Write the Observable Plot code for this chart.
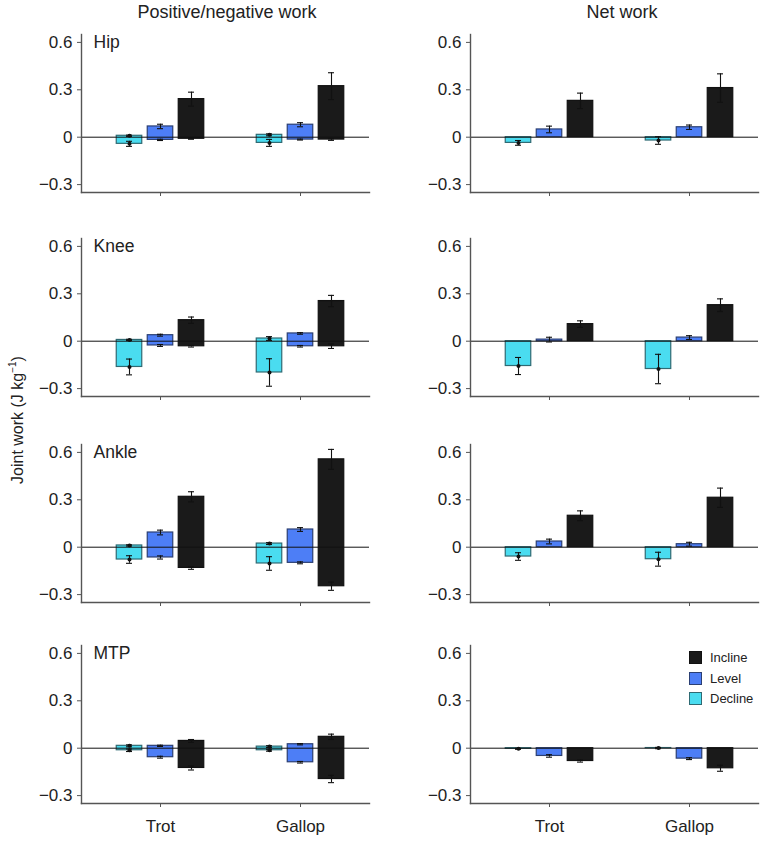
<!DOCTYPE html>
<html>
<head>
<meta charset="utf-8">
<script src="https://cdn.jsdelivr.net/npm/d3@7"></script>
<script src="https://cdn.jsdelivr.net/npm/@observablehq/plot@0.6"></script>
<style>
  body { margin: 0; background: #fff; font-family: "Liberation Sans", Arial, sans-serif; }
  #wrap { position: relative; width: 762px; height: 859px; overflow: hidden; }
  .abs { position: absolute; }
  .coltitle { font-size: 18px; color: #222; transform: translateX(-50%); white-space: nowrap; }
  .ylab { font-size: 16px; color: #222; white-space: nowrap; transform: translate(-50%, -50%) rotate(-90deg); }
  .leg { font-size: 13px; color: #222; display: flex; align-items: center; white-space: nowrap; }
  .leg span.sw { display: inline-block; width: 11px; height: 11px; border: 1px solid #333; margin-right: 8px; }
</style>
</head>
<body>
<div id="wrap"></div>
<script>
// ---------- data ----------
const gaits = ["Trot", "Gallop"];
const slopes = ["Decline", "Level", "Incline"];
const joints = ["Hip", "Knee", "Ankle", "MTP"];
const columnTitles = ["Positive/negative work", "Net work"];
const yTicks = [-0.3, 0, 0.3, 0.6];
const yTickLabels = ["\u22120.3", "0", "0.3", "0.6"];
const slopeFills = ["#4adcf0", "#4d7ef6", "#1a1a1a"];
const slopeStrokes = ["#2f6a73", "#2b3f73", "#111111"];

// order in each row: Trot Decline, Trot Level, Trot Incline, Gallop Decline, Gallop Level, Gallop Incline
const posWork = [
  [0.009, 0.068, 0.241, 0.015, 0.079, 0.323],
  [0.008, 0.038, 0.133, 0.017, 0.049, 0.254],
  [0.011, 0.093, 0.319, 0.023, 0.112, 0.556],
  [0.015, 0.015, 0.046, 0.010, 0.025, 0.072]
];
const posErr = [
  [0.004, 0.014, 0.044, 0.006, 0.013, 0.085],
  [0.004, 0.006, 0.020, 0.012, 0.005, 0.036],
  [0.004, 0.015, 0.032, 0.006, 0.012, 0.063],
  [0.006, 0.004, 0.009, 0.006, 0.004, 0.017]
];
const negWork = [
  [-0.042, -0.017, -0.010, -0.036, -0.015, -0.015],
  [-0.163, -0.027, -0.032, -0.198, -0.032, -0.032],
  [-0.078, -0.065, -0.131, -0.103, -0.099, -0.247],
  [-0.013, -0.057, -0.125, -0.013, -0.089, -0.195]
];
const negErr = [
  [0.016, 0.004, 0.003, 0.022, 0.003, 0.005],
  [0.050, 0.006, 0.005, 0.087, 0.005, 0.014],
  [0.024, 0.010, 0.009, 0.043, 0.006, 0.026],
  [0.008, 0.006, 0.013, 0.006, 0.005, 0.023]
];
const netWork = [
  [-0.036, 0.049, 0.230, -0.021, 0.063, 0.311],
  [-0.157, 0.010, 0.108, -0.176, 0.023, 0.228],
  [-0.059, 0.036, 0.199, -0.076, 0.019, 0.313],
  [-0.004, -0.049, -0.081, 0.001, -0.066, -0.127]
];
const netErr = [
  [0.015, 0.021, 0.049, 0.024, 0.014, 0.090],
  [0.054, 0.015, 0.021, 0.093, 0.012, 0.040],
  [0.024, 0.015, 0.031, 0.044, 0.012, 0.061],
  [0.003, 0.008, 0.007, 0.004, 0.006, 0.019]
];

// ---------- layout ----------
const wrap = document.getElementById("wrap");
const zeroY = [137, 340.3, 546.7, 747.3];
const yDomain = [-0.35, 0.65];
const frameH = 158;
const slopeDx = [-31, 0, 31];
const barInset = 57.25;
const capInset = 67;
const font = "'Liberation Sans', Arial, sans-serif";

function rowsFor(j) {
  const rows = [];
  gaits.forEach((g, gi) => slopes.forEach((s, si) => {
    const i = gi * 3 + si;
    rows.push({joint: joints[j], gait: g, slope: s, si,
      pos: posWork[j][i], posErr: posErr[j][i],
      neg: negWork[j][i], negErr: negErr[j][i],
      net: netWork[j][i], netErr: netErr[j][i]});
  }));
  return rows;
}

function errMarks(data, si, key, errKey) {
  const opts = {x: "gait", dx: slopeDx[si], stroke: "#111", strokeWidth: 1.1};
  return [
    Plot.ruleX(data, {...opts, y1: d => d[key] - d[errKey], y2: d => d[key] + d[errKey]}),
    Plot.tickY(data, {...opts, y: d => d[key] + d[errKey], insetLeft: capInset, insetRight: capInset}),
    Plot.tickY(data, {...opts, y: d => d[key] - d[errKey], insetLeft: capInset, insetRight: capInset})
  ];
}

for (let r = 0; r < 4; r++) {
  for (let c = 0; c < 2; c++) {
    const rows = rowsFor(r);
    const bottom = r === 3;
    const mt = 8, mb = bottom ? 44 : 8;
    const ml = c === 0 ? 81 : 89;
    const mr = c === 0 ? 12 : 4;
    const width = 381;
    const frameTop = zeroY[r] - (yDomain[1] / (yDomain[1] - yDomain[0])) * frameH;
    const marks = [];
    slopes.forEach((s, si) => {
      const d = rows.filter(v => v.si === si);
      if (c === 0) {
        marks.push(Plot.barY(d, {x: "gait", y1: "neg", y2: "pos", dx: slopeDx[si],
          insetLeft: barInset, insetRight: barInset,
          fill: slopeFills[si], stroke: slopeStrokes[si], strokeWidth: 1.2}));
      } else {
        marks.push(Plot.barY(d, {x: "gait", y1: 0, y2: "net", dx: slopeDx[si],
          insetLeft: barInset, insetRight: barInset,
          fill: slopeFills[si], stroke: slopeStrokes[si], strokeWidth: 1.2}));
      }
    });
    marks.push(Plot.ruleY([0], {stroke: "#111", strokeWidth: 1}));
    slopes.forEach((s, si) => {
      const d = rows.filter(v => v.si === si);
      if (c === 0) {
        marks.push(...errMarks(d, si, "pos", "posErr"));
        marks.push(...errMarks(d, si, "neg", "negErr"));
        if (si === 0) {
          marks.push(Plot.dot(d, {x: "gait", y: "neg", dx: slopeDx[si], r: 2, fill: "#111"}));
          marks.push(Plot.dot(d, {x: "gait", y: "pos", dx: slopeDx[si], r: 2, fill: "#111"}));
        }
      } else {
        marks.push(...errMarks(d, si, "net", "netErr"));
        if (si === 0) marks.push(Plot.dot(d, {x: "gait", y: "net", dx: slopeDx[si], r: 2, fill: "#111"}));
      }
    });
    marks.push(Plot.frame({anchor: "left", stroke: "#555", strokeWidth: 1.4}));
    marks.push(Plot.frame({anchor: "bottom", stroke: "#555", strokeWidth: 1.4}));
    marks.push(Plot.axisY({ticks: yTicks, tickFormat: d => yTickLabels[yTicks.indexOf(d)],
      tickSize: 4, tickPadding: 5, fontSize: 17, stroke: "#555", label: null}));
    marks.push(Plot.axisX({tickSize: 4, tickPadding: 12, fontSize: 17, stroke: "#555", label: null,
      tickFormat: bottom ? (d => d) : (() => "")}));
    if (c === 0) {
      marks.push(Plot.text([joints[r]], {frameAnchor: "top-left", textAnchor: "start", lineAnchor: "top",
        dx: 12, dy: 1, fontSize: 17.5, fill: "#222"}));
    }
    const svg = Plot.plot({
      width, height: mt + frameH + mb,
      marginTop: mt, marginBottom: mb, marginLeft: ml, marginRight: mr,
      style: {fontFamily: font, color: "#222", background: "transparent", overflow: "visible"},
      x: {domain: gaits, range: [ml + 9, ml + 289], padding: 0, axis: null},
      y: {domain: yDomain, axis: null},
      marks
    });
    svg.classList.add("abs");
    svg.style.left = (c === 0 ? 0 : 381) + "px";
    svg.style.top = (frameTop - mt) + "px";
    wrap.appendChild(svg);
  }
}

// column titles
[[227, columnTitles[0]], [622, columnTitles[1]]].forEach(([x, t]) => {
  const el = document.createElement("div");
  el.className = "abs coltitle";
  el.style.left = x + "px";
  el.style.top = "2px";
  el.textContent = t;
  wrap.appendChild(el);
});

// y axis title
const yl = document.createElement("div");
yl.className = "abs ylab";
yl.style.left = "17px";
yl.style.top = "420px";
yl.innerHTML = "Joint work (J kg<sup style='font-size:10px'>\u22121</sup>)";
wrap.appendChild(yl);

// legend (Incline, Level, Decline top to bottom)
[2, 1, 0].forEach((si, k) => {
  const el = document.createElement("div");
  el.className = "abs leg";
  el.style.left = "689px";
  el.style.top = (650 + k * 20.7) + "px";
  el.innerHTML = `<span class="sw" style="background:${slopeFills[si]};border-color:${slopeStrokes[si]}"></span>${slopes[si]}`;
  wrap.appendChild(el);
});
</script>
</body>
</html>
